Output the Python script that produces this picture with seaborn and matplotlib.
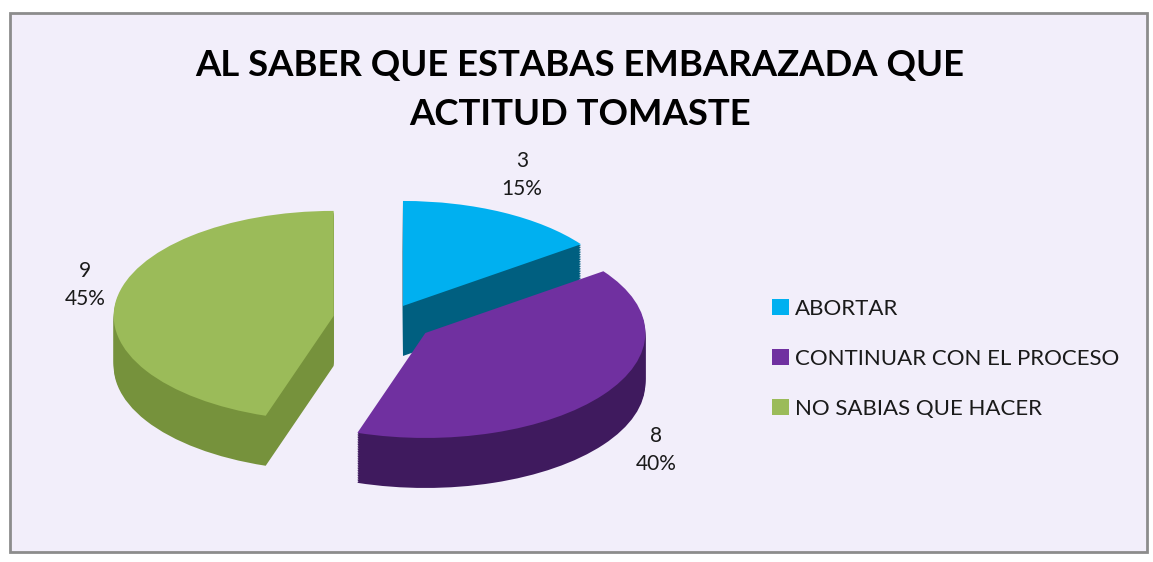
import numpy as np
import matplotlib
matplotlib.use("Agg")
import matplotlib.pyplot as plt
import seaborn as sns
from matplotlib.patches import Rectangle

# data
categories = ["ABORTAR", "CONTINUAR CON EL PROCESO", "NO SABIAS QUE HACER"]
counts = [3, 8, 9]
title = "AL SABER QUE ESTABAS EMBARAZADA QUE\nACTITUD TOMASTE"

top_colors = ["#00B0F0", "#7030A0", "#9BBB59"]
side_colors = ["#005F80", "#3F1A5E", "#76923C"]
zorders = [1, 3, 2]  # blue at back, purple in front
explode = [0.15, 0.21, 0.25]

sns.set_theme(style="white")
plt.rcParams["font.family"] = ["Lato", "DejaVu Sans"]

W, H = 1153, 562
fig = plt.figure(figsize=(W / 100, H / 100), dpi=100)
fig.patch.set_facecolor("white")
fig.patches.append(Rectangle((10 / W, 10 / H), 1137 / W, 539 / H, transform=fig.transFigure,
                             facecolor="#F2EEFA", edgecolor="#8C8C8C", linewidth=2, zorder=-1))

ax = fig.add_axes([0, 0, 1, 1])
ax.patch.set_alpha(0)

# fake 3d: stack squashed pies, darker ones underneath
depth = 50 / 105
n_layers = 30
top_wedges = None
for k, off in enumerate(np.linspace(-depth, 0, n_layers)):
    is_top = k == n_layers - 1
    wedges, _ = ax.pie(counts, explode=explode, startangle=90, counterclock=False,
                       center=(0, off), colors=top_colors if is_top else side_colors,
                       wedgeprops=dict(linewidth=0))
    for w, z in zip(wedges, zorders):
        w.set_zorder(z + k / 100)
    if is_top:
        top_wedges = wedges

# pie centre at pixel (388, 320), radius 220 px wide, 105 px tall
cx, cy, rx, ry = 388, H - 320, 220, 105
ax.set_aspect("auto")
ax.set_xlim(-cx / rx, (W - cx) / rx)
ax.set_ylim(-cy / ry, (H - cy) / ry)
ax.axis("off")

total = sum(counts)
label_px = [(522, 175), (656, 450), (85, 285)]
for c, (px, py) in zip(counts, label_px):
    fig.text(px / W, 1 - py / H, f"{c}\n{round(100 * c / total)}%", ha="center", va="center",
             fontsize=15, color="#1A1A1A", linespacing=1.5)

fig.text(580 / W, 1 - 90 / H, title, ha="center", va="center", fontsize=26.3,
         fontweight="bold", color="black", linespacing=1.6)

fig.legend(top_wedges, categories, loc="center left", bbox_to_anchor=(772 / W, 1 - 359 / H),
           frameon=False, fontsize=16, handlelength=0.75, handleheight=0.75,
           handletextpad=0.3, labelspacing=1.35, borderpad=0, borderaxespad=0,
           labelcolor="#1A1A1A")

fig.savefig("out.png", dpi=100)
